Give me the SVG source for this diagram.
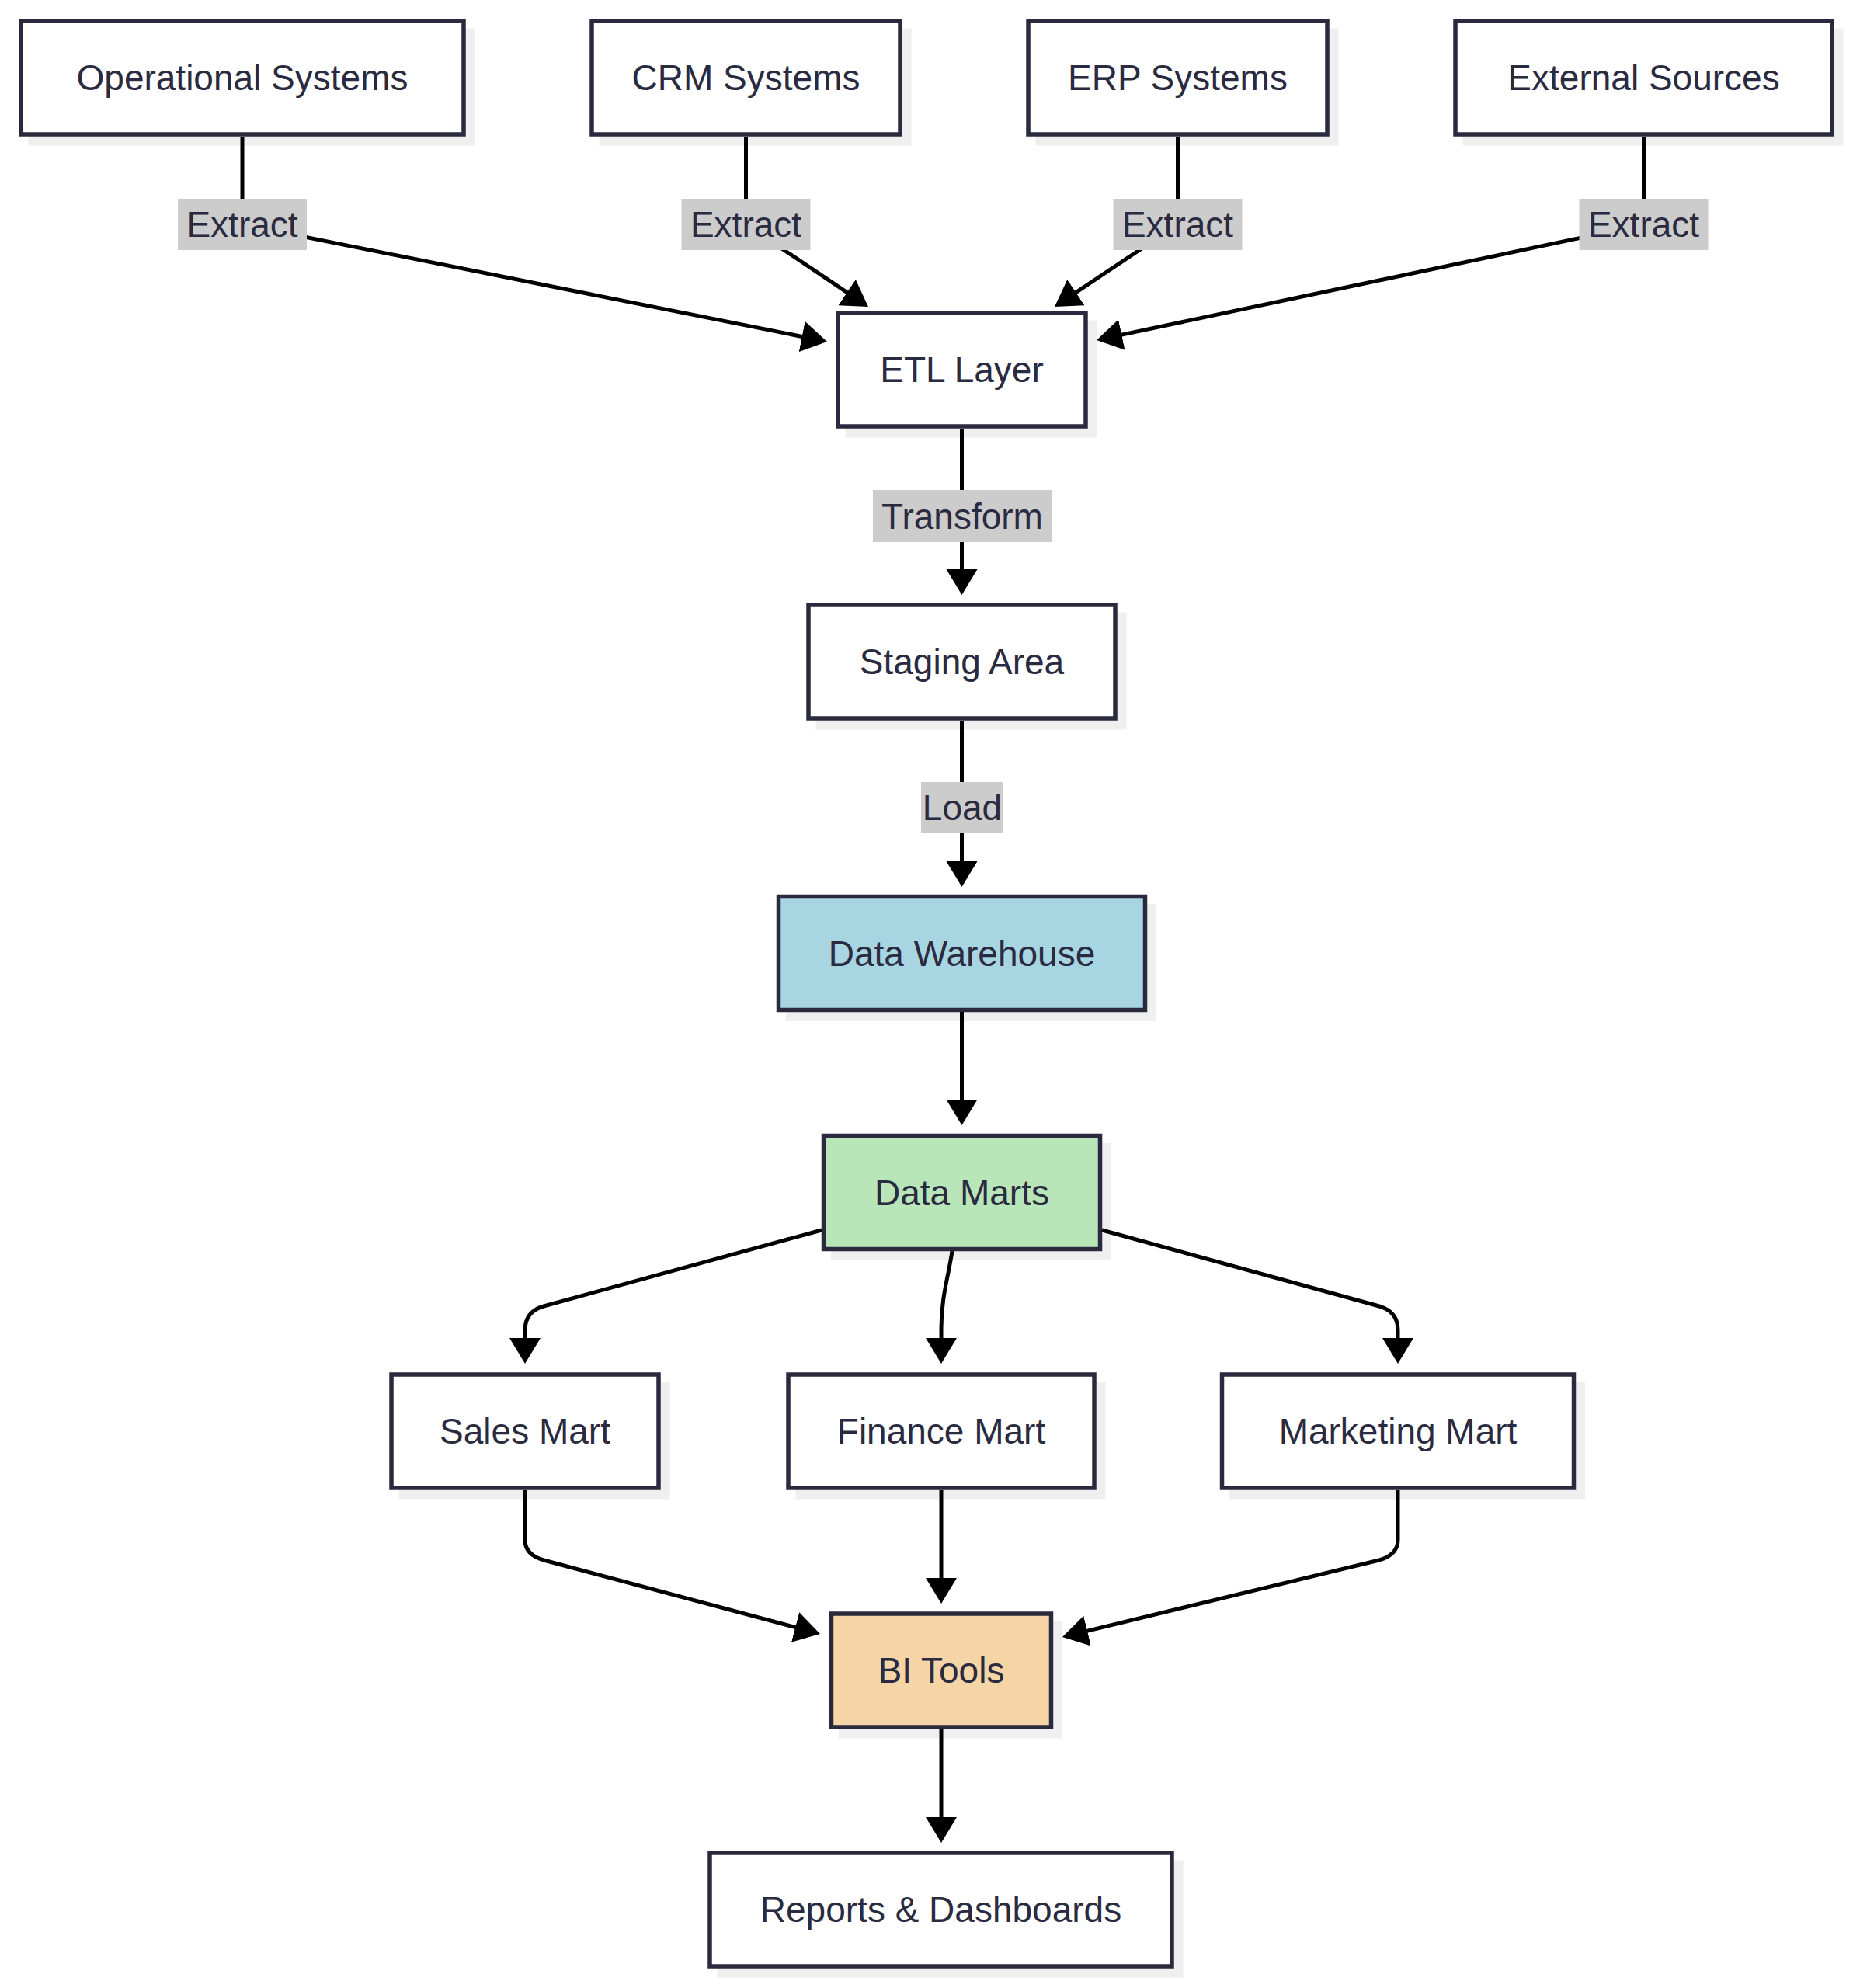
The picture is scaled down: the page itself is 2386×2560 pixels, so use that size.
<svg xmlns="http://www.w3.org/2000/svg" width="2386" height="2560" viewBox="0 0 2386 2560">
<style>
.shadow{fill:#efeff0;stroke:none}
.box{fill:#ffffff;stroke:#2a2a3e;stroke-width:5.5}
.dw{fill:#a8d5e2}
.dm{fill:#b8e6b8}
.bi{fill:#f5d5a5}
.t{font-family:"Liberation Sans",Arial,sans-serif;font-size:46px;fill:#2a2a40;text-anchor:middle}
.edge{fill:none;stroke:#000000;stroke-width:5;marker-end:url(#arrow)}
.lbg{fill:#cccccc}
</style>
<defs>
<marker id="arrow" markerUnits="userSpaceOnUse" markerWidth="34" markerHeight="41" refX="23" refY="20" orient="auto">
<path d="M0,0 L33,20 L0,40 z" fill="#000000"/>
</marker>
</defs>
<rect width="2386" height="2560" fill="#ffffff"/>
<g id="op">
<rect class="shadow" x="36.5" y="36.5" width="575" height="151"/>
<rect class="box" x="27" y="27" width="570" height="146"/>
<text class="t" x="312" y="116">Operational Systems</text>
</g>
<g id="crm">
<rect class="shadow" x="771.5" y="36.5" width="402" height="151"/>
<rect class="box" x="762" y="27" width="397" height="146"/>
<text class="t" x="960.5" y="116">CRM Systems</text>
</g>
<g id="erp">
<rect class="shadow" x="1333.5" y="36.5" width="390" height="151"/>
<rect class="box" x="1324" y="27" width="385" height="146"/>
<text class="t" x="1516.5" y="116">ERP Systems</text>
</g>
<g id="ext">
<rect class="shadow" x="1883.5" y="36.5" width="490" height="151"/>
<rect class="box" x="1874" y="27" width="485" height="146"/>
<text class="t" x="2116.5" y="116">External Sources</text>
</g>
<g id="etl">
<rect class="shadow" x="1088.5" y="412.5" width="324" height="151"/>
<rect class="box" x="1079" y="403" width="319" height="146"/>
<text class="t" x="1238.5" y="492">ETL Layer</text>
</g>
<g id="staging">
<rect class="shadow" x="1050.5" y="788.5" width="400" height="151"/>
<rect class="box" x="1041" y="779" width="395" height="146"/>
<text class="t" x="1238.5" y="868">Staging Area</text>
</g>
<g id="dw">
<rect class="shadow" x="1012" y="1164" width="477" height="151"/>
<rect class="box dw" x="1002.5" y="1154.5" width="472" height="146"/>
<text class="t" x="1238.5" y="1243.5">Data Warehouse</text>
</g>
<g id="dm">
<rect class="shadow" x="1070" y="1472" width="361" height="151"/>
<rect class="box dm" x="1060.5" y="1462.5" width="356" height="146"/>
<text class="t" x="1238.5" y="1551.5">Data Marts</text>
</g>
<g id="sales">
<rect class="shadow" x="513.5" y="1779.5" width="349" height="151"/>
<rect class="box" x="504" y="1770" width="344" height="146"/>
<text class="t" x="676" y="1859">Sales Mart</text>
</g>
<g id="finance">
<rect class="shadow" x="1024.5" y="1779.5" width="399" height="151"/>
<rect class="box" x="1015" y="1770" width="394" height="146"/>
<text class="t" x="1212" y="1859">Finance Mart</text>
</g>
<g id="marketing">
<rect class="shadow" x="1583" y="1779.5" width="458" height="151"/>
<rect class="box" x="1573.5" y="1770" width="453" height="146"/>
<text class="t" x="1800" y="1859">Marketing Mart</text>
</g>
<g id="bi">
<rect class="shadow" x="1080" y="2087.5" width="288" height="151"/>
<rect class="box bi" x="1070.5" y="2078" width="283" height="146"/>
<text class="t" x="1212" y="2167">BI Tools</text>
</g>
<g id="reports">
<rect class="shadow" x="923.5" y="2395.5" width="600" height="151"/>
<rect class="box" x="914" y="2386" width="595" height="146"/>
<text class="t" x="1211.5" y="2475">Reports &amp; Dashboards</text>
</g>
<g id="connectors">
<path class="edge" d="M312,176 L312,289 L1055.2,438"/>
<path class="edge" d="M960.5,176 L960.5,289 L1109.7,389.4"/>
<path class="edge" d="M1516.5,176 L1516.5,289 L1366.3,389.4"/>
<path class="edge" d="M2116.5,176 L2116.5,289 L1421.8,435.9"/>
<path class="edge" d="M1238.5,552 L1238.5,756"/>
<path class="edge" d="M1238.5,928 L1238.5,1132"/>
<path class="edge" d="M1238.5,1303 L1238.5,1439"/>
<path class="edge" d="M1058,1584 L700,1682 Q676,1689 676,1713 L676,1746"/>
<path class="edge" d="M1226,1611 C1222,1640 1212,1670 1212,1710 L1212,1746"/>
<path class="edge" d="M1419,1584 L1776,1682 Q1800,1689 1800,1713 L1800,1746"/>
<path class="edge" d="M676,1919 L676,1983 Q676,2002 700,2009 L1046.3,2101.4"/>
<path class="edge" d="M1212,1919 L1212,2055"/>
<path class="edge" d="M1800,1919 L1800,1983 Q1800,2002 1776,2009 L1377.7,2105.6"/>
<path class="edge" d="M1212,2227 L1212,2363"/>
<g id="edge-labels">
<rect class="lbg" x="229" y="256" width="166" height="66"/>
<text class="t" x="312" y="305">Extract</text>
<rect class="lbg" x="877.5" y="256" width="166" height="66"/>
<text class="t" x="960.5" y="305">Extract</text>
<rect class="lbg" x="1433.5" y="256" width="166" height="66"/>
<text class="t" x="1516.5" y="305">Extract</text>
<rect class="lbg" x="2033.5" y="256" width="166" height="66"/>
<text class="t" x="2116.5" y="305">Extract</text>
<rect class="lbg" x="1124" y="631" width="230" height="67"/>
<text class="t" x="1239" y="681">Transform</text>
<rect class="lbg" x="1186" y="1007" width="106" height="66"/>
<text class="t" x="1239" y="1056">Load</text>
</g>
</g>
</svg>
